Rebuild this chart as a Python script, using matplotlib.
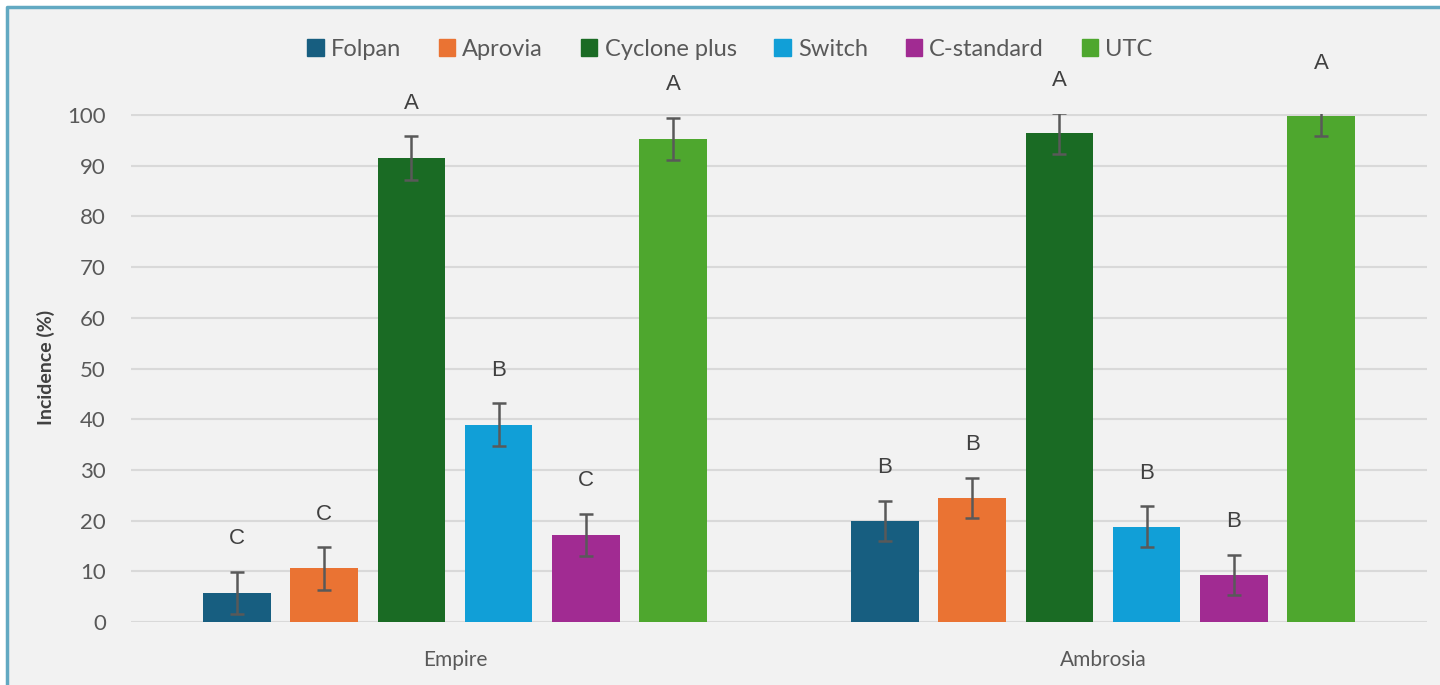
import matplotlib.pyplot as plt
import matplotlib.patches as mpatches
from matplotlib.lines import Line2D
import numpy as np

# data
cultivars = ["Empire", "Ambrosia"]
treatments = ["Folpan", "Aprovia", "Cyclone plus", "Switch", "C-standard", "UTC"]
colors = ["#175e80", "#ea7333", "#1a6b24", "#119fd7", "#a12b92", "#4ea72e"]

empire = [5.7, 10.6, 91.5, 38.9, 17.2, 95.3]
ambrosia = [19.9, 24.5, 96.4, 18.8, 9.3, 99.8]
empire_err = [4.2, 4.2, 4.3, 4.2, 4.2, 4.2]
ambrosia_err = [4.0, 4.0, 4.0, 4.0, 4.0, 3.9]
empire_letters = ["C", "C", "A", "B", "C", "A"]
ambrosia_letters = ["B", "B", "A", "B", "B", "A"]

values = np.array([empire, ambrosia]).T
errors = np.array([empire_err, ambrosia_err]).T
letters = np.array([empire_letters, ambrosia_letters]).T

plt.rcParams['font.family'] = ['Lato', 'DejaVu Sans']

fig = plt.figure(figsize=(14.4, 6.85), dpi=100)
fig.patch.set_facecolor("white")
# chart panel, only the left and top frame edges are visible
fx, fy = 7 / 1440, 1 - 7 / 685
fig.add_artist(mpatches.Rectangle((fx, 0), 1 - fx, fy, transform=fig.transFigure,
                                  facecolor="#f2f2f2", edgecolor="none", zorder=0))
fig.add_artist(Line2D([fx, fx, 1], [0, fy, fy], transform=fig.transFigure,
                      color="#62a9c2", linewidth=2.5, zorder=1))

ax = fig.add_axes([131 / 1440, 1 - 622 / 685, (1427 - 131) / 1440, (622 - 113.5) / 685])
ax.set_facecolor("#f2f2f2")

x = np.arange(len(cultivars))
step = 0.1346
width = 0.104
for i, t in enumerate(treatments):
    pos = x + (i - 2.5) * step
    ax.bar(pos, values[i], width, color=colors[i], label=t, zorder=3)
    ax.errorbar(pos, values[i], yerr=errors[i], fmt="none", ecolor="#595959",
                elinewidth=1.8, capsize=4.8, capthick=1.8, zorder=4)
    for j in range(len(cultivars)):
        ax.text(pos[j], values[i][j] + errors[i][j] + 6.5, letters[i][j],
                ha="center", va="center", fontsize=16, color="#404040",
                family="Liberation Sans", clip_on=False)

ax.set_xlim(-0.5, 1.5)
ax.set_ylim(0, 100.3)
ax.set_yticks(range(0, 101, 10))
ax.set_xticks(x)
ax.set_xticklabels(cultivars, fontsize=15, color="#595959")
ax.tick_params(axis="y", labelsize=16, labelcolor="#595959", length=0, pad=18)
ax.tick_params(axis="x", length=0, pad=20)
ax.grid(axis="y", color="#d9d9d9", linewidth=1.5, zorder=0)
for s in ax.spines.values():
    s.set_visible(False)

ax.set_ylabel("Incidence (%)", fontsize=14, fontweight="bold", color="#404040", labelpad=9)

handles = [mpatches.Patch(color=c, label=t) for c, t in zip(colors, treatments)]
fig.legend(handles=handles, loc="center", bbox_to_anchor=(730 / 1440, 1 - 49 / 685),
           ncol=6, frameon=False, fontsize=17, labelcolor="#595959",
           handlelength=0.7, handleheight=0.7, handletextpad=0.3, columnspacing=1.6)

fig.savefig("out.png", dpi=100, facecolor=fig.get_facecolor())
